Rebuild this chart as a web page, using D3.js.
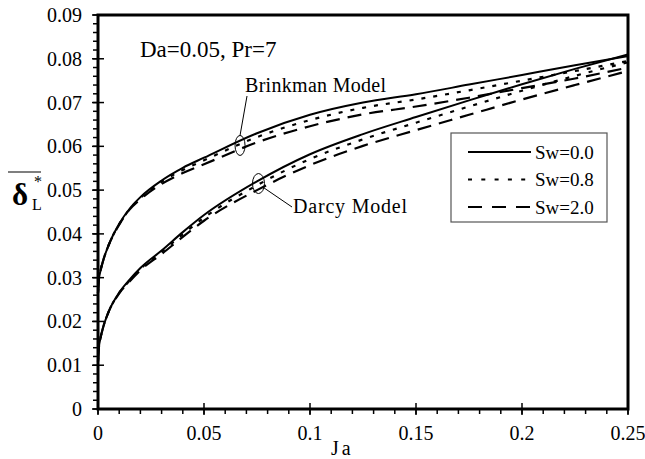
<!DOCTYPE html>
<html>
<head>
<meta charset="utf-8">
<script src="https://cdn.jsdelivr.net/npm/d3@7"></script>
<style>
  body { margin: 0; background: #fff; }
</style>
</head>
<body>
<svg id="chart" width="645" height="459"></svg>
<script>
// Ja values (x)
const ja = [0, 0.0005, 0.001, 0.0025, 0.005, 0.01, 0.015, 0.02, 0.03, 0.04, 0.05, 0.075, 0.1, 0.125, 0.15, 0.175, 0.2, 0.225, 0.25];

// Brinkman model
const brinkman_sw00 = [0.0265, 0.0299, 0.0312, 0.0340, 0.0374, 0.0423, 0.0458, 0.0484, 0.0522, 0.0551, 0.0574, 0.0630, 0.0672, 0.0700, 0.0719, 0.0741, 0.0763, 0.0785, 0.0806];
const brinkman_sw08 = [0.0265, 0.0299, 0.0312, 0.0340, 0.0374, 0.0422, 0.0457, 0.0482, 0.0519, 0.0546, 0.0568, 0.0621, 0.0660, 0.0688, 0.0707, 0.0728, 0.0750, 0.0772, 0.0795];
const brinkman_sw20 = [0.0265, 0.0299, 0.0312, 0.0340, 0.0374, 0.0421, 0.0456, 0.0479, 0.0514, 0.0539, 0.0559, 0.0609, 0.0646, 0.0673, 0.0691, 0.0711, 0.0733, 0.0755, 0.0780];

// Darcy model
const darcy_sw00 = [0.0108, 0.0144, 0.0158, 0.0188, 0.0222, 0.0266, 0.0296, 0.0322, 0.0362, 0.0404, 0.0443, 0.0520, 0.0582, 0.0628, 0.0667, 0.0705, 0.0742, 0.0777, 0.0810];
const darcy_sw08 = [0.0108, 0.0144, 0.0158, 0.0188, 0.0222, 0.0265, 0.0294, 0.0320, 0.0359, 0.0399, 0.0437, 0.0511, 0.0571, 0.0616, 0.0654, 0.0691, 0.0727, 0.0761, 0.0792];
const darcy_sw20 = [0.0108, 0.0144, 0.0158, 0.0188, 0.0222, 0.0264, 0.0292, 0.0317, 0.0354, 0.0393, 0.0430, 0.0500, 0.0557, 0.0601, 0.0637, 0.0672, 0.0707, 0.0740, 0.0772];

const legendLabels = ["Sw=0.0", "Sw=0.8", "Sw=2.0"];
const xTicks = [0, 0.05, 0.1, 0.15, 0.2, 0.25];
const yTicks = [0, 0.01, 0.02, 0.03, 0.04, 0.05, 0.06, 0.07, 0.08, 0.09];

const DASHES = [null, "4,8", "14,8"];
const LEGEND_DASHES = [null, "4,9.3", "14,10"];
const FONT = "'Liberation Serif', 'Times New Roman', serif";

const svg = d3.select("#chart");
const PLOT_L = 98, PLOT_R = 628, PLOT_T = 15, PLOT_B = 409;

const x = d3.scaleLinear().domain([0, 0.25]).range([PLOT_L, PLOT_R]);
const y = d3.scaleLinear().domain([0, 0.09]).range([PLOT_B, PLOT_T]);

function txt(g) {
    return g.append("text").style("font-family", FONT).attr("fill", "#000");
}

// minor ticks
const xMinor = d3.range(0, 0.2501, 0.01);
const yMinor = d3.range(0, 0.0901, 0.002);

svg.append("g").selectAll("line").data(xMinor).enter().append("line")
    .attr("x1", d => x(d)).attr("x2", d => x(d))
    .attr("y1", PLOT_B).attr("y2", PLOT_B + 5)
    .attr("stroke", "#000").attr("stroke-width", 1.5);
svg.append("g").selectAll("line").data(xTicks).enter().append("line")
    .attr("x1", d => x(d)).attr("x2", d => x(d))
    .attr("y1", PLOT_B - 6).attr("y2", PLOT_B + 6)
    .attr("stroke", "#000").attr("stroke-width", 1.5);

svg.append("g").selectAll("line").data(yMinor).enter().append("line")
    .attr("x1", PLOT_L - 5).attr("x2", PLOT_L)
    .attr("y1", d => y(d)).attr("y2", d => y(d))
    .attr("stroke", "#000").attr("stroke-width", 1.5);
svg.append("g").selectAll("line").data(yTicks).enter().append("line")
    .attr("x1", PLOT_L - 6).attr("x2", PLOT_L + 6)
    .attr("y1", d => y(d)).attr("y2", d => y(d))
    .attr("stroke", "#000").attr("stroke-width", 1.5);

// tick labels
svg.append("g").selectAll("text").data(xTicks).enter().append("text")
    .style("font-family", FONT)
    .attr("x", d => x(d)).attr("y", 440)
    .attr("text-anchor", "middle").attr("font-size", 20)
    .text(d => d);
svg.append("g").selectAll("text").data(yTicks).enter().append("text")
    .style("font-family", FONT)
    .attr("x", 82).attr("y", d => y(d) + 7)
    .attr("text-anchor", "end").attr("font-size", 20)
    .text(d => d);

// frame
svg.append("rect")
    .attr("x", PLOT_L).attr("y", PLOT_T)
    .attr("width", PLOT_R - PLOT_L).attr("height", PLOT_B - PLOT_T)
    .attr("fill", "none").attr("stroke", "#000").attr("stroke-width", 3);

// curves
const line = d3.line().x((d, i) => x(ja[i])).y(d => y(d)).curve(d3.curveMonotoneX);
const series = [
    [brinkman_sw00, 0], [brinkman_sw08, 1], [brinkman_sw20, 2],
    [darcy_sw00, 0], [darcy_sw08, 1], [darcy_sw20, 2]
];
svg.append("g").selectAll("path").data(series).enter().append("path")
    .attr("d", d => line(d[0]))
    .attr("fill", "none").attr("stroke", "#000")
    .attr("stroke-width", d => d[1] === 0 ? 2 : 2.2)
    .attr("stroke-dasharray", d => DASHES[d[1]]);

// annotations
txt(svg).attr("x", 140).attr("y", 57).attr("font-size", 23).text("Da=0.05, Pr=7");

txt(svg).attr("x", 245).attr("y", 92).attr("font-size", 20)
    .attr("letter-spacing", 0.3).text("Brinkman Model");
svg.append("ellipse").attr("cx", x(0.067)).attr("cy", y(0.0602))
    .attr("rx", 5).attr("ry", 10).attr("fill", "none").attr("stroke", "#000").attr("stroke-width", 1);
svg.append("line").attr("x1", 247).attr("y1", 96).attr("x2", x(0.067)).attr("y2", y(0.0602) - 10)
    .attr("stroke", "#000").attr("stroke-width", 1);

txt(svg).attr("x", 293).attr("y", 213).attr("font-size", 20)
    .attr("letter-spacing", 0.8).text("Darcy Model");
svg.append("ellipse").attr("cx", x(0.0757)).attr("cy", y(0.0515))
    .attr("rx", 6).attr("ry", 10).attr("fill", "none").attr("stroke", "#000").attr("stroke-width", 1);
svg.append("line").attr("x1", x(0.0757) + 5).attr("y1", y(0.0515) + 4).attr("x2", 292).attr("y2", 207)
    .attr("stroke", "#000").attr("stroke-width", 1);

// legend
const lg = svg.append("g");
lg.append("rect").attr("x", 451).attr("y", 133).attr("width", 156).attr("height", 89)
    .attr("fill", "#fff").attr("stroke", "#555").attr("stroke-width", 1.2);
const rows = lg.selectAll("g.row").data(legendLabels).enter().append("g").attr("class", "row")
    .attr("transform", (d, i) => `translate(0, ${152 + i * 27.5})`);
rows.append("line").attr("x1", 468).attr("x2", 531).attr("y1", 0).attr("y2", 0)
    .attr("stroke", "#000").attr("stroke-width", 2)
    .attr("stroke-dasharray", (d, i) => LEGEND_DASHES[i]);
rows.append("text").style("font-family", FONT)
    .attr("x", 535).attr("y", 6.5).attr("font-size", 19).text(d => d);

// axis titles
txt(svg).attr("x", 331).attr("y", 455).attr("font-size", 20)
    .attr("letter-spacing", 3).text("Ja");

const yl = svg.append("g");
txt(yl).attr("x", 12).attr("y", 205).attr("font-size", 31).attr("font-weight", "bold").text("δ");
txt(yl).attr("x", 32).attr("y", 210).attr("font-size", 16).text("L");
txt(yl).attr("x", 34).attr("y", 187).attr("font-size", 16).text("*");
yl.append("line").attr("x1", 8).attr("x2", 41).attr("y1", 172).attr("y2", 172)
    .attr("stroke", "#000").attr("stroke-width", 1.2);
</script>
</body>
</html>
